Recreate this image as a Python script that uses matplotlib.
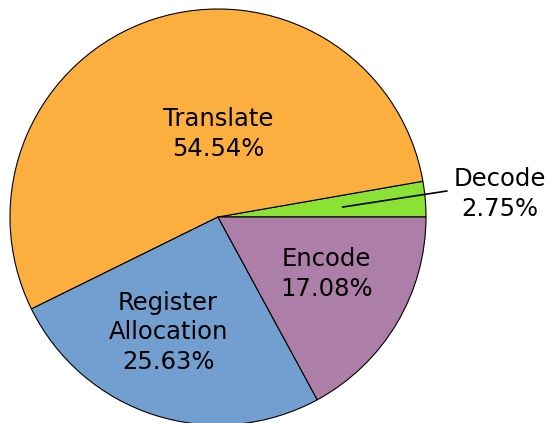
import numpy as np
import matplotlib
matplotlib.use("Agg")
import matplotlib.pyplot as plt

labels = ["Decode", "Translate", "Register\nAllocation", "Encode"]
shares = [2.75, 54.54, 25.63, 17.08]
colors = ["#8ae234", "#fcaf3e", "#729fcf", "#ad7fa8"]

fig = plt.figure(figsize=(5.5, 4.23), dpi=100)
ax = fig.add_axes([10/550, (423-217-208)/423, 416/550, 416/423])

wedges, _ = ax.pie(shares, colors=colors, startangle=0, counterclock=True,
                   wedgeprops=dict(edgecolor="black", linewidth=0.8))
ax.set_xlim(-1, 1)
ax.set_ylim(-1, 1)
ax.set_aspect("equal")

# label spots inside the slices (radius units)
spots = [None, (0.0, 0.40), (-0.24, -0.555), (0.52, -0.275)]
for lab, val, pos in zip(labels, shares, spots):
    if pos is None:
        continue
    ax.text(pos[0], pos[1], f"{lab}\n{val:.2f}%", ha="center", va="center",
            fontsize=17.5, linespacing=1.3)

# Decode sits outside with a pointer line
ax.plot([0.60, 1.10], [0.048, 0.125], color="black", lw=1.2, clip_on=False)
ax.text(1.356, 0.11, f"{labels[0]}\n{shares[0]:.2f}%", ha="center", va="center",
        fontsize=17.5, linespacing=1.3, clip_on=False)

fig.savefig("out.png", dpi=100)
